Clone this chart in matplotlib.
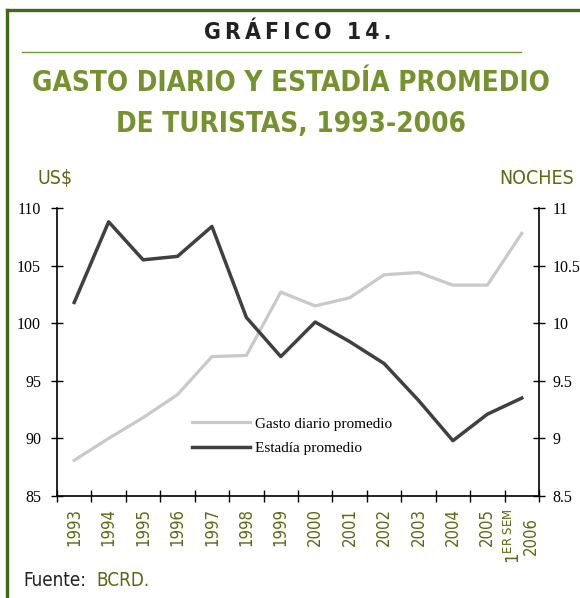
import numpy as np
import matplotlib

matplotlib.use("Agg")
import matplotlib.pyplot as plt
from matplotlib.lines import Line2D

years = ["1993", "1994", "1995", "1996", "1997", "1998", "1999", "2000",
         "2001", "2002", "2003", "2004", "2005", "2006"]
gasto = [88.1, 90.0, 91.8, 93.8, 97.1, 97.2, 102.7, 101.5,
         102.2, 104.2, 104.4, 103.3, 103.3, 107.8]
estadia = [10.18, 10.88, 10.55, 10.58, 10.84, 10.05, 9.71, 10.01,
           9.84, 9.65, 9.33, 8.98, 9.21, 9.35]

OLIVE = "#76922f"
DARK_OLIVE = "#5a6a14"
FRAME = "#3e6a17"
SERIF = "Liberation Serif"
NARROW = dict(family="DejaVu Sans", stretch="condensed")

fig = plt.figure(figsize=(5.8, 5.98), dpi=100)
ax = fig.add_axes([0.0983, 0.1706, 0.831, 0.4816])
ax2 = ax.twinx()

x = np.arange(len(years)) + 0.5
l1, = ax.plot(x, gasto, color="#c9c9c9", lw=2.3, label="Gasto diario promedio")
l2, = ax2.plot(x, estadia, color="#404040", lw=2.5, label="Estadía promedio")

ax.set_xlim(0, len(years))
ax.set_ylim(85, 110)
ax2.set_ylim(8.5, 11)
ax.set_yticks(np.arange(85, 111, 5))
ax2.set_yticks(np.arange(8.5, 11.01, 0.5))
ax2.set_yticklabels(["8.5", "9", "9.5", "10", "10.5", "11"])

ax.set_xticks(np.arange(len(years) + 1))
ax.set_xticklabels([])
ax.set_xticks(x, minor=True)
labels = years[:-1] + [r"$\mathsf{1^{ER\ SEM}}$" + "\n2006"]
ax.set_xticklabels(labels, minor=True, rotation=90, fontsize=12,
                   color=DARK_OLIVE, va="top", linespacing=0.8, **NARROW)
ax.tick_params(axis="x", which="minor", length=0, pad=9)
ax.tick_params(axis="x", which="major", direction="inout", length=8, width=1)

for a in (ax, ax2):
    a.spines["top"].set_visible(False)
    for s in a.spines.values():
        s.set_linewidth(1.2)
ax2.spines["left"].set_visible(False)
ax2.spines["bottom"].set_visible(False)
ax.spines["right"].set_visible(False)

ax.tick_params(axis="y", direction="inout", length=9, width=1, pad=7)
ax2.tick_params(axis="y", direction="inout", length=9, width=1, pad=5)
for lab in ax.get_yticklabels() + ax2.get_yticklabels():
    lab.set_family(SERIF)
    lab.set_fontsize(11.5)

ax.legend(handles=[l1, l2], loc="center", bbox_to_anchor=(0.488, 0.208),
          frameon=False, handlelength=3.8, handletextpad=0.3,
          labelspacing=0.7, prop={"family": SERIF, "size": 11})

# frame and header
fig.add_artist(Line2D([0.012, 1.0], [0.984, 0.984], color=FRAME, lw=2.4))
fig.add_artist(Line2D([0.012, 0.012], [0.0, 0.984], color=FRAME, lw=2.4))
fig.add_artist(Line2D([0.038, 0.898], [0.913, 0.913], color="#6a9a3a", lw=1))

fig.text(0.514, 0.945, "\u2009".join("GRÁFICO 14."), ha="center", va="center",
         fontsize=16.5, fontweight="bold", color="#222222", **NARROW)
fig.text(0.502, 0.862, "GASTO DIARIO Y ESTADÍA PROMEDIO", ha="center",
         va="center", fontsize=20, fontweight="bold", color=OLIVE, **NARROW)
fig.text(0.502, 0.793, "DE TURISTAS, 1993-2006", ha="center",
         va="center", fontsize=20, fontweight="bold", color=OLIVE, **NARROW)

fig.text(0.065, 0.702, "US$", ha="left", va="center", fontsize=14,
         color=DARK_OLIVE, **NARROW)
fig.text(0.99, 0.702, "NOCHES", ha="right", va="center", fontsize=14,
         color=DARK_OLIVE, **NARROW)
fig.text(0.041, 0.03, "Fuente:", ha="left", va="center", fontsize=13.5,
         color="#222222", **NARROW)
fig.text(0.166, 0.03, "BCRD.", ha="left", va="center", fontsize=13.5,
         color=DARK_OLIVE, **NARROW)

fig.savefig("out.png", dpi=100)
